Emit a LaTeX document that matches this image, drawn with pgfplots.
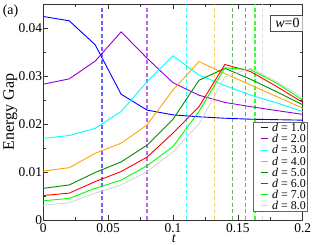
\documentclass[border=0pt]{standalone}
\usepackage{fontspec}
\setmainfont{Liberation Serif}
\usepackage{pgfplots}
\pgfplotsset{compat=1.18}
\definecolor{gblue}{RGB}{0,0,255}
\definecolor{gviolet}{RGB}{148,0,211}
\definecolor{gcyan}{RGB}{0,255,255}
\definecolor{gorange}{RGB}{255,165,0}
\definecolor{ggreenfour}{RGB}{0,139,0}
\definecolor{gred}{RGB}{255,0,0}
\definecolor{ggreen}{RGB}{0,255,0}
\definecolor{ggrey}{RGB}{215,215,215}
\begin{document}
\begin{tikzpicture}
\useasboundingbox (-43.3bp,-25bp) rectangle (273.7bp,220bp);
\begin{axis}[
  scale only axis, width=259.4bp, height=216bp,
  xmin=0, xmax=0.2, ymin=0, ymax=0.045,
  scaled ticks=false,
  xtick={0,0.05,0.1,0.15,0.2}, xticklabels={0,0.05,0.1,0.15,0.2},
  ytick={0,0.01,0.02,0.03,0.04}, yticklabels={0,0.01,0.02,0.03,0.04},
  minor tick num=1,
  tick align=inside,
  major tick length=5bp, minor tick length=3bp,
  axis line style={line width=0.6bp, black!80},
  every tick/.style={black!80, line width=0.6bp},
  tick label style={font=\fontsize{13.5}{14}\selectfont},
  xticklabel style={inner sep=0bp, yshift=-3.5bp},
  yticklabel style={inner sep=0bp, xshift=-1bp},
  xlabel={\textit{t}}, ylabel={Energy Gap},
  xlabel style={at={(axis description cs:0.504,-0.086)}, anchor=center, inner sep=0pt, font=\fontsize{14}{14}\selectfont},
  ylabel style={at={(axis description cs:-0.127,0.5)}, anchor=center, font=\fontsize{16}{16}\selectfont},
  legend style={at={(axis description cs:1.0185,0.455)}, anchor=north east, draw=black!60, fill=white, inner sep=1.5bp, font=\fontsize{12}{12}\selectfont, row sep=2.3bp, column sep=4bp, nodes={inner sep=0pt, text height=8.3bp, text depth=0.5bp}},
  legend cell align=left,
  legend image code/.code={\path (-5.5bp,0bp) (0bp,0bp); \draw[#1] (0bp,0bp) -- (7bp,0bp);},
]
% dashed vertical lines
\addplot[gblue, opacity=0.6, line width=1.4bp, dash pattern=on 4bp off 2.5bp, forget plot] coordinates {(0.0453,0) (0.0453,0.045)};
\addplot[gviolet, opacity=0.6, line width=1.4bp, dash pattern=on 4bp off 2.5bp, forget plot] coordinates {(0.080,0) (0.080,0.045)};
\addplot[gcyan, opacity=0.8, line width=1.4bp, dash pattern=on 4bp off 2.5bp, forget plot] coordinates {(0.1103,0) (0.1103,0.045)};
\addplot[gorange, opacity=0.6, line width=1.4bp, dash pattern=on 4bp off 2.5bp, forget plot] coordinates {(0.1319,0) (0.1319,0.045)};
\addplot[ggreenfour, opacity=0.6, line width=1.4bp, dash pattern=on 4bp off 2.5bp, forget plot] coordinates {(0.146,0) (0.146,0.045)};
\addplot[gred, opacity=0.6, line width=1.4bp, dash pattern=on 4bp off 2.5bp, forget plot] coordinates {(0.156,0) (0.156,0.045)};
\addplot[ggreen, opacity=0.8, line width=1.4bp, dash pattern=on 4bp off 2.5bp, forget plot] coordinates {(0.1632,0) (0.1632,0.045)};
\addplot[ggrey, opacity=0.8, line width=1.4bp, dash pattern=on 4bp off 2.5bp, forget plot] coordinates {(0.1692,0) (0.1692,0.045)};
% curves
\addplot[gblue, line width=0.9bp] coordinates {(0,0.0424) (0.02,0.0415) (0.04,0.0365) (0.06,0.0262) (0.08,0.0229) (0.1,0.0219) (0.12,0.0215) (0.14,0.0212) (0.16,0.0210) (0.18,0.0209) (0.2,0.0208)};
\addlegendentry{\textit{d} = 1.0}
\addplot[gviolet, line width=0.9bp] coordinates {(0,0.0283) (0.02,0.0294) (0.04,0.0331) (0.06,0.0392) (0.08,0.0337) (0.1,0.0286) (0.12,0.0260) (0.14,0.0245) (0.16,0.0236) (0.18,0.0228) (0.2,0.0220)};
\addlegendentry{\textit{d} = 2.0}
\addplot[gcyan, line width=0.9bp] coordinates {(0,0.0170) (0.02,0.0176) (0.04,0.0191) (0.06,0.0226) (0.08,0.0288) (0.1,0.0342) (0.12,0.0302) (0.14,0.0280) (0.16,0.0260) (0.18,0.0244) (0.2,0.0226)};
\addlegendentry{\textit{d} = 3.0}
\addplot[gorange, line width=0.9bp] coordinates {(0,0.0102) (0.02,0.0109) (0.04,0.0139) (0.06,0.0160) (0.08,0.0198) (0.1,0.0271) (0.12,0.0330) (0.14,0.0305) (0.16,0.0281) (0.18,0.0257) (0.2,0.0233)};
\addlegendentry{\textit{d} = 4.0}
\addplot[ggreenfour, line width=0.9bp] coordinates {(0,0.0066) (0.02,0.0073) (0.04,0.0099) (0.06,0.0121) (0.08,0.0156) (0.1,0.0210) (0.12,0.0291) (0.14,0.0316) (0.16,0.0293) (0.18,0.0267) (0.2,0.0240)};
\addlegendentry{\textit{d} = 5.0}
\addplot[gred, line width=0.9bp] coordinates {(0,0.0051) (0.02,0.0056) (0.04,0.0080) (0.06,0.0101) (0.08,0.0131) (0.1,0.0181) (0.12,0.0236) (0.14,0.0324) (0.16,0.0309) (0.18,0.0278) (0.2,0.0245)};
\addlegendentry{\textit{d} = 6.0}
\addplot[ggreen, line width=0.9bp] coordinates {(0,0.0040) (0.02,0.0045) (0.04,0.0066) (0.06,0.0083) (0.08,0.0113) (0.1,0.0153) (0.12,0.0226) (0.14,0.0317) (0.16,0.0313) (0.18,0.0285) (0.2,0.0250)};
\addlegendentry{\textit{d} = 7.0}
\addplot[ggrey, line width=0.9bp] coordinates {(0,0.0031) (0.02,0.0036) (0.04,0.0056) (0.06,0.0073) (0.08,0.0101) (0.1,0.0142) (0.12,0.0200) (0.14,0.0298) (0.16,0.0316) (0.18,0.0288) (0.2,0.0255)};
\addlegendentry{\textit{d} = 8.0}
\node[draw=black!70, fill=white, font=\fontsize{14}{14}\selectfont, inner xsep=5bp, inner ysep=3bp] at (rel axis cs:0.9414,0.9107) {\textit{w}=0};
\end{axis}
\node[font=\fontsize{14}{14}\selectfont, inner sep=0pt] at (-32.8bp,209bp) {(a)};
\end{tikzpicture}
\end{document}
